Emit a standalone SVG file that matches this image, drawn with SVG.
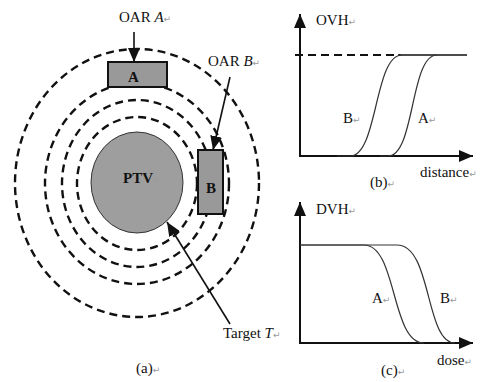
<svg xmlns="http://www.w3.org/2000/svg" width="483" height="382" viewBox="0 0 483 382">
<defs>
<style>
.t{font-family:"Liberation Serif","Times New Roman",serif;font-size:15px;fill:#111}
.b{font-weight:bold}
.i{font-style:italic}
.pm{font-family:"DejaVu Sans",sans-serif;font-size:9px;fill:#999;font-style:normal;font-weight:normal}
.ring{fill:none;stroke:#111;stroke-width:2.4;stroke-dasharray:8 5}
.box{fill:#999;stroke:#111;stroke-width:2}
.ax{fill:none;stroke:#111;stroke-width:2}
.cv{fill:none;stroke:#333;stroke-width:1.2}
.ln{fill:none;stroke:#111;stroke-width:1.6}
</style>
<marker id="ah" viewBox="0 0 10 10" refX="10" refY="5" markerWidth="7" markerHeight="7" markerUnits="userSpaceOnUse" orient="auto">
<path d="M0 0 L10 5 L0 10 Z" fill="#111"/>
</marker>
<marker id="ahb" viewBox="0 0 10 10" refX="10" refY="5" markerWidth="14" markerHeight="12" markerUnits="userSpaceOnUse" orient="auto" preserveAspectRatio="none">
<path d="M0 0 L10 5 L0 10 Z" fill="#111"/>
</marker>
</defs>
<rect width="483" height="382" fill="#fff"/>

<g id="rings">
<ellipse class="ring" cx="137" cy="183.5" rx="60" ry="66.5"/>
<ellipse class="ring" cx="137" cy="183.5" rx="75" ry="83.5"/>
<ellipse class="ring" cx="137" cy="183.5" rx="92" ry="100.5"/>
<ellipse class="ring" cx="137" cy="183" rx="122" ry="134"/>
</g>

<g id="ptv">
<ellipse cx="137" cy="182.5" rx="46" ry="50.5" fill="#9e9e9e" stroke="#333" stroke-width="1"/>
<text class="t b" x="123" y="183">PTV<tspan class="pm">↵</tspan></text>
</g>

<g id="oarA">
<rect class="box" x="108" y="62" width="59" height="25"/>
<text class="t b" x="128" y="82" font-size="13">A</text>
</g>

<g id="oarB">
<rect class="box" x="198" y="150" width="25" height="64"/>
<text class="t b" x="206" y="193" font-size="13">B</text>
</g>

<g id="connectors">
<line x1="134" y1="32" x2="134" y2="62" stroke="#111" stroke-width="1.6" marker-end="url(#ahb)"/>
<line x1="230" y1="77" x2="213" y2="150" stroke="#111" stroke-width="1.6" marker-end="url(#ahb)"/>
<line x1="230" y1="324" x2="167" y2="222" stroke="#111" stroke-width="1.6" marker-end="url(#ahb)"/>
</g>

<g id="labels-a">
<text class="t" x="119" y="22">OAR <tspan class="i">A</tspan><tspan class="pm">↵</tspan></text>
<text class="t" x="208" y="66">OAR <tspan class="i">B</tspan><tspan class="pm">↵</tspan></text>
<text class="t" x="223" y="338">Target <tspan class="i">T</tspan><tspan class="pm">↵</tspan></text>
<text class="t" x="136" y="373">(a)<tspan class="pm">↵</tspan></text>
</g>

<g id="chart-b">
<line class="ax" x1="300" y1="156" x2="300" y2="14" marker-end="url(#ahb)"/>
<line class="ax" x1="299" y1="156" x2="473" y2="156" marker-end="url(#ahb)"/>
<line x1="295" y1="55" x2="400" y2="55" stroke="#111" stroke-width="2" stroke-dasharray="8 5"/>
<line x1="398" y1="55" x2="467" y2="55" stroke="#111" stroke-width="1.3"/>
<path class="cv" d="M337 156 L350 156 C378 156 374 55 402 55"/>
<path class="cv" d="M380 156 L388 156 C415 156 410 55 437 55"/>
<text class="t" x="316" y="25">OVH<tspan class="pm">↵</tspan></text>
<text class="t" x="343" y="123">B<tspan class="pm">↵</tspan></text>
<text class="t" x="418" y="123">A<tspan class="pm">↵</tspan></text>
<text class="t" x="420" y="177">distance<tspan class="pm">↵</tspan></text>
<text class="t" x="370" y="187">(b)<tspan class="pm">↵</tspan></text>
</g>

<g id="chart-c">
<line class="ax" x1="300" y1="343" x2="300" y2="202" marker-end="url(#ahb)"/>
<line class="ax" x1="299" y1="343" x2="473" y2="343" marker-end="url(#ahb)"/>
<path class="cv" d="M300 245 L364 245 C397 245 391 343 424 343"/>
<path class="cv" d="M300 245 L397 245 C432 245 425 343 455 343"/>
<text class="t" x="316" y="214">DVH<tspan class="pm">↵</tspan></text>
<text class="t" x="372" y="303">A<tspan class="pm">↵</tspan></text>
<text class="t" x="440" y="303">B<tspan class="pm">↵</tspan></text>
<text class="t" x="437" y="365">dose<tspan class="pm">↵</tspan></text>
<text class="t" x="381" y="375">(c)<tspan class="pm">↵</tspan></text>
</g>
</svg>
